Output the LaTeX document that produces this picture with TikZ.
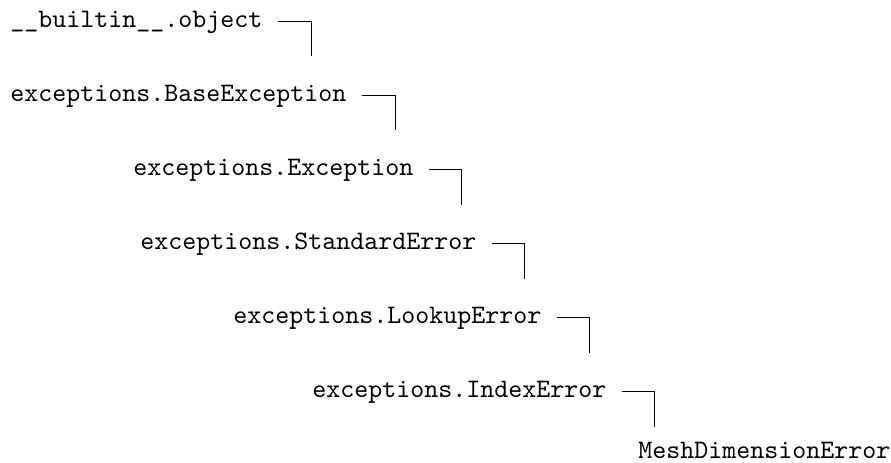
\documentclass[tikz,border=0pt]{standalone}
\usepackage{fontspec}
\usepackage{tikz}
\usetikzlibrary{calc}
\newfontfamily\clsfont{lmmono10-regular}[Extension=.otf]

\begin{document}
\begin{tikzpicture}[x=0.5pt,y=-0.5pt,
  cls/.style={anchor=base west,inner sep=0pt,font=\clsfont\fontsize{13.33}{16}\selectfont},
  link/.style={line width=0.5pt}]
\useasboundingbox (0,0) rectangle (891,462);
\node[cls] (obj) at (10,27) {\_\_builtin\_\_.object};
\node[cls] (base) at (10,101) {exceptions.BaseException};
\node[cls] (exc) at (133,175) {exceptions.Exception};
\node[cls] (std) at (140,249) {exceptions.StandardError};
\node[cls] (lookup) at (233,323) {exceptions.LookupError};
\node[cls] (index) at (312,397) {exceptions.IndexError};
\node[cls] (mesh) at (638,458) {MeshDimensionError};
\draw[link] ([shift={(15,-6)}]obj.base east) -- ++(34,0) -- ++(0,35);
\draw[link] ([shift={(15,-6)}]base.base east) -- ++(34,0) -- ++(0,35);
\draw[link] ([shift={(15,-6)}]exc.base east) -- ++(33,0) -- ++(0,36);
\draw[link] ([shift={(15,-6)}]std.base east) -- ++(33,0) -- ++(0,36);
\draw[link] ([shift={(15,-6)}]lookup.base east) -- ++(33,0) -- ++(0,36);
\draw[link] ([shift={(15,-6)}]index.base east) -- ++(33,0) -- ++(0,36);
\end{tikzpicture}
\end{document}
